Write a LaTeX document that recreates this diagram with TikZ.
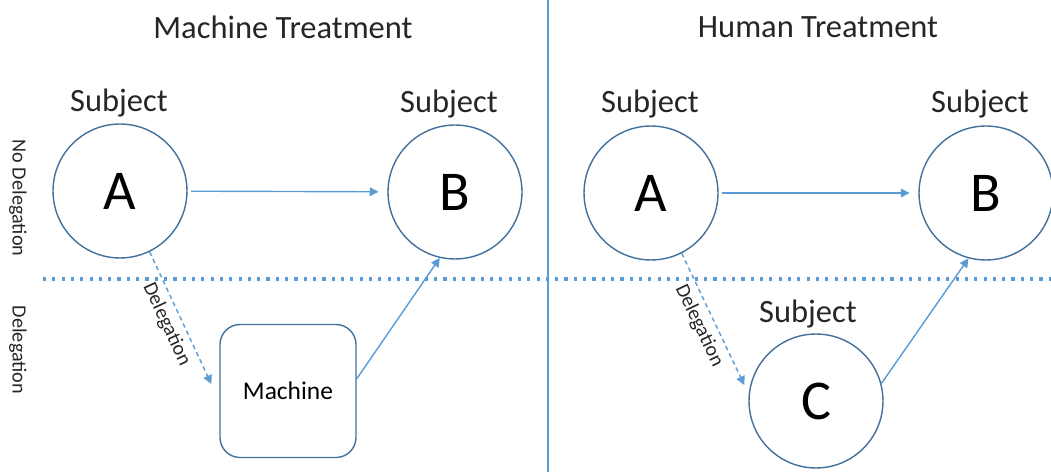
\documentclass[tikz,border=0pt]{standalone}
\usepackage{fontspec}
\setmainfont{Carlito}
\usetikzlibrary{arrows.meta}
\definecolor{ringblue}{HTML}{41719C}
\definecolor{arrowblue}{HTML}{5B9BD5}
\tikzset{
	subj/.style={circle,draw=ringblue,line width=0.8pt,minimum size=2.68cm,inner sep=0pt,font=\fontsize{32}{36}\selectfont},
	machbox/.style={rectangle,rounded corners=0.4cm,draw=ringblue,line width=0.8pt,minimum width=2.72cm,minimum height=2.66cm,font=\fontsize{14.5}{17}\selectfont},
	conn/.style={draw=arrowblue,line width=0.8pt,-{Triangle[length=5pt,width=5pt]}},
	deleg/.style={conn,dash pattern=on 2.5pt off 2pt},
	lbl/.style={font=\fontsize{18.5}{22}\selectfont,text=black!85},
	side/.style={font=\fontsize{11.5}{14}\selectfont,rotate=-90,text=black!85}
}
\begin{document}
\begin{tikzpicture}[x=0.02cm,y=-0.02cm]
		\useasboundingbox (0,0) rectangle (1051,472);
		\draw[arrowblue,line width=0.7pt] (548,0) -- (548,472);
		\draw[arrowblue,line width=2.2pt,dash pattern=on 1.8pt off 3.5pt] (43,279) -- (1051,279);
		\node[lbl] (T1) at (283,27) {Machine Treatment};
		\node[lbl] (T2) at (818,27) {Human Treatment};
		\node[side] (R1) at (18,198) {No Delegation};
		\node[side] (R2) at (18,350) {Delegation};
		\node[subj] (A1) at (120,191) {A};
		\node[subj] (B1) at (455,192) {B};
		\node[machbox] (M) at (288,391) {Machine};
		\node[lbl] (SA1) at (119,103) {Subject};
		\node[lbl] (SB1) at (449,104) {Subject};
		\node[subj] (A2) at (651,193) {A};
		\node[subj] (B2) at (986,193) {B};
		\node[subj] (C) at (816,401) {C};
		\node[lbl] (SA2) at (650,104) {Subject};
		\node[lbl] (SB2) at (980,104) {Subject};
		\node[lbl] (SC) at (808,314) {Subject};
		\draw[conn,shorten <=2pt,shorten >=5pt] (A1) to (B1);
		\draw[deleg] (A1.-64) to node[midway,sloped,below,side,rotate=90] {Delegation} ([shift={(-8,-7)}]M.west);
		\draw[conn] (M.10) to (B1.-103);
		\draw[conn,shorten <=2pt,shorten >=5pt] (A2) to (B2);
		\draw[deleg] (A2.-63) to node[midway,sloped,below,side,rotate=90] {Delegation} ([shift={(-4,-16)}]C.west);
		\draw[conn] (C.15) to (B2.-105);
\end{tikzpicture}
\end{document}
